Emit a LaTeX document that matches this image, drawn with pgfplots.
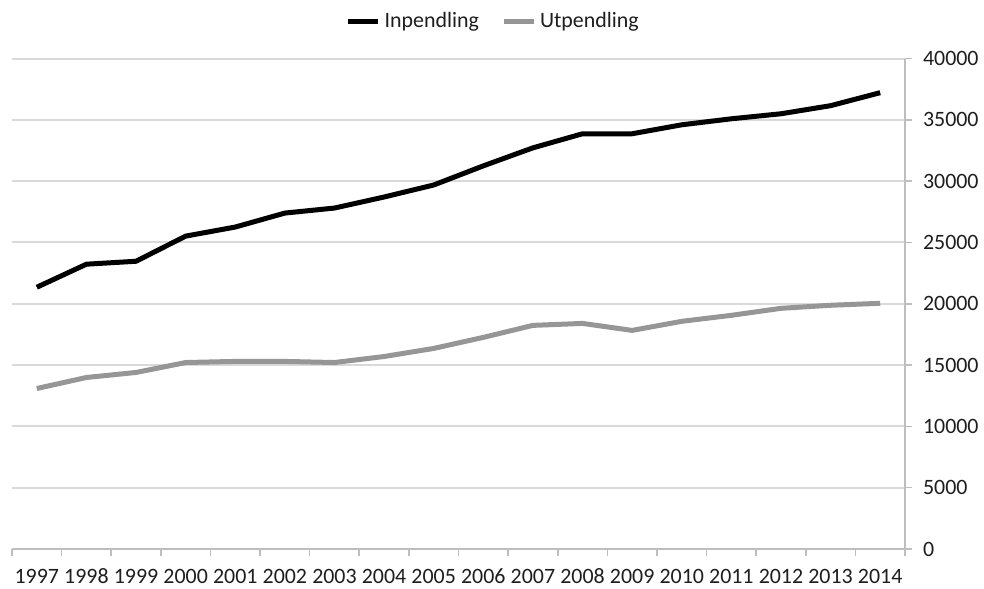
\documentclass[border=0pt]{standalone}
\usepackage{fontspec}
\setmainfont{Carlito}
\usepackage{pgfplots}
\pgfplotsset{compat=1.18}

\definecolor{inpcol}{RGB}{0,0,0}
\definecolor{utpcol}{RGB}{150,150,150}
\definecolor{gridcol}{RGB}{217,217,217}
\definecolor{axcol}{RGB}{190,190,190}
\definecolor{txtcol}{RGB}{30,30,30}

\begin{document}
\begin{tikzpicture}[x=1bp,y=1bp]
% bounding box: 984 x 589 px at 0.5 bp per px
\path[use as bounding box] (0,0) rectangle (492bp,294.5bp);
\begin{axis}[
  at={(6bp,20bp)}, anchor=south west,
  width=446.5bp, height=245.2bp, scale only axis,
  xmin=-0.5, xmax=17.5, ymin=0, ymax=40000,
  axis x line*=bottom, axis y line*=right,
  axis line style={axcol, line width=0.8bp},
  xtick={-0.5,0.5,...,17.5},
  xticklabels={1997,1998,1999,2000,2001,2002,2003,2004,2005,2006,2007,2008,2009,2010,2011,2012,2013,2014},
  x tick label as interval,
  ytick={0,5000,...,40000},
  tick align=outside,
  major tick length=3.5bp,
  tick style={axcol, line width=0.8bp},
  ymajorgrids, grid style={gridcol, line width=1bp},
  font=\fontsize{11}{13}\selectfont,
  tick label style={text=txtcol, font=\fontsize{11}{13}\selectfont},
  yticklabel style={anchor=west, xshift=2bp},
  xticklabel style={anchor=north, text height=8bp, text depth=0bp, yshift=-2bp},
  /pgf/number format/assume math mode=true,
  /pgf/number format/set thousands separator={},
  scaled y ticks=false,
  clip=false,
  legend style={at={(axis description cs:0.540,1)}, anchor=south, yshift=12bp,
    draw=none, fill=none, legend columns=2, text=txtcol,
    font=\fontsize{11}{13}\selectfont,
    /tikz/every even column/.append style={column sep=9bp},
    inner sep=0pt, row sep=0pt},
  legend cell align=left,
  legend image code/.code={\draw[#1] (0bp,0bp) -- (15bp,0bp);},
]
\addplot[inpcol, line width=2.5bp, line join=round] coordinates {
(0,21350) (1,23230) (2,23470) (3,25520) (4,26260) (5,27400) (6,27810) (7,28710) (8,29690)
(9,31250) (10,32720) (11,33870) (12,33870) (13,34600) (14,35090) (15,35500) (16,36160) (17,37220)};
\addlegendentry{Inpendling}
\addplot[utpcol, line width=2.5bp, line join=round] coordinates {
(0,13090) (1,13990) (2,14400) (3,15210) (4,15300) (5,15300) (6,15210) (7,15700) (8,16360)
(9,17260) (10,18240) (11,18400) (12,17830) (13,18570) (14,19060) (15,19630) (16,19880) (17,20040)};
\addlegendentry{Utpendling}
\end{axis}
\end{tikzpicture}
\end{document}
